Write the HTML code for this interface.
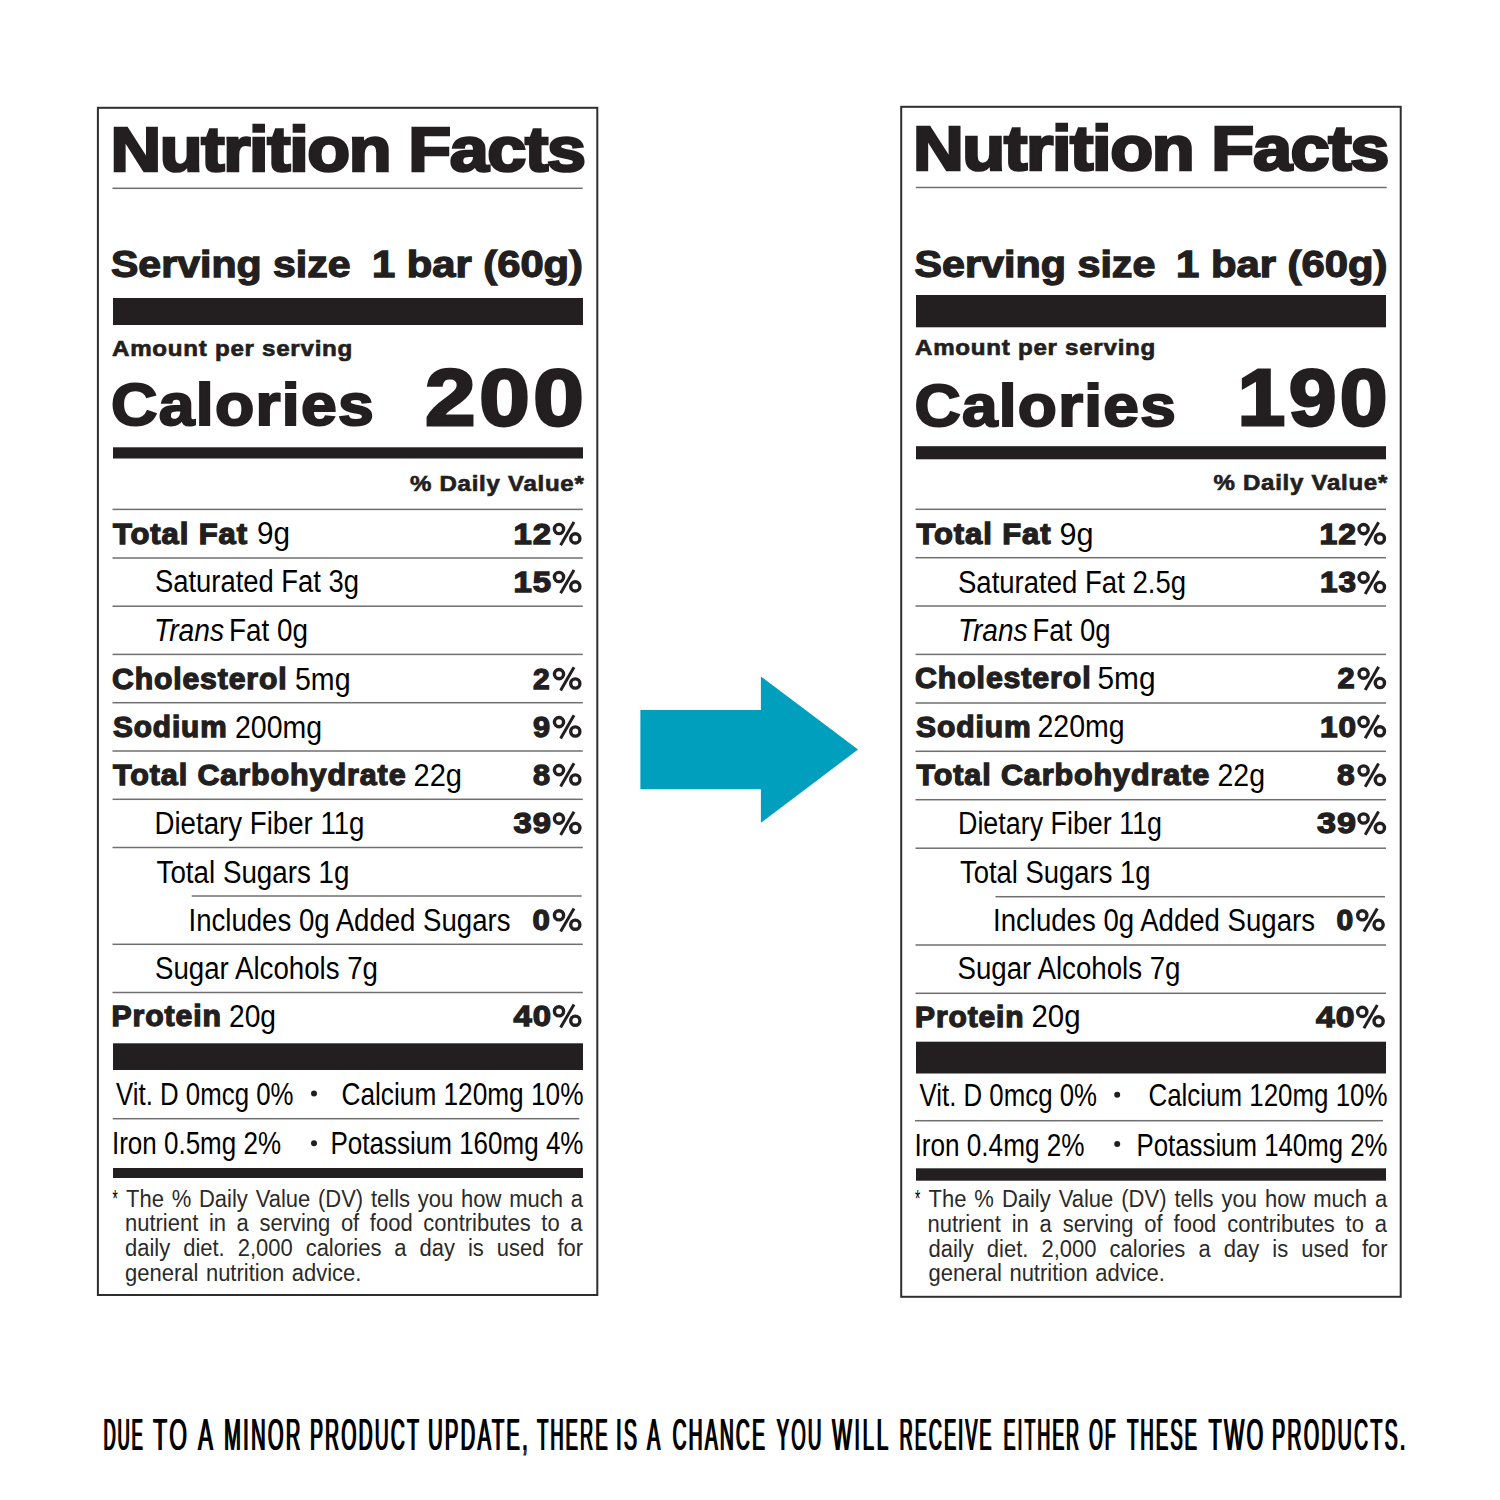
<!DOCTYPE html><html><head><meta charset="utf-8"><title>Nutrition Facts</title><style>html,body{margin:0;padding:0;background:#fff;width:1500px;height:1500px;overflow:hidden}svg{display:block}text{font-family:"Liberation Sans",sans-serif;fill:#231f20}</style></head><body>
<svg width="1500" height="1500" viewBox="0 0 1500 1500">
<rect x="0" y="0" width="1500" height="1500" fill="#fff"/>
<rect class="g" x="97.90" y="107.80" width="499.40" height="1187.20" fill="none" stroke="#2e2e2e" stroke-width="2"/>
<rect class="g" x="901.20" y="106.80" width="499.50" height="1190.00" fill="none" stroke="#2e2e2e" stroke-width="2"/>
<rect class="g" x="113.00" y="298.00" width="470.00" height="27.00" fill="#231f20"/>
<rect class="g" x="113.00" y="447.30" width="470.00" height="11.20" fill="#231f20"/>
<rect class="g" x="113.00" y="1043.30" width="470.00" height="26.70" fill="#231f20"/>
<rect class="g" x="113.00" y="1168.00" width="470.00" height="10.00" fill="#231f20"/>
<rect class="g" x="916.00" y="295.00" width="470.00" height="32.30" fill="#231f20"/>
<rect class="g" x="916.00" y="446.20" width="470.00" height="13.10" fill="#231f20"/>
<rect class="g" x="916.00" y="1041.70" width="470.00" height="31.80" fill="#231f20"/>
<rect class="g" x="916.00" y="1168.30" width="470.00" height="12.40" fill="#231f20"/>
<rect class="g" x="112.50" y="187.55" width="470.20" height="1.5" fill="#707070"/>
<rect class="g" x="112.50" y="508.65" width="470.30" height="1.5" fill="#707070"/>
<rect class="g" x="112.50" y="557.25" width="470.30" height="1.5" fill="#707070"/>
<rect class="g" x="112.50" y="605.45" width="470.30" height="1.5" fill="#707070"/>
<rect class="g" x="112.50" y="653.65" width="470.30" height="1.5" fill="#707070"/>
<rect class="g" x="112.50" y="701.95" width="470.30" height="1.5" fill="#707070"/>
<rect class="g" x="112.50" y="750.25" width="470.30" height="1.5" fill="#707070"/>
<rect class="g" x="112.50" y="798.55" width="470.30" height="1.5" fill="#707070"/>
<rect class="g" x="112.50" y="846.75" width="470.30" height="1.5" fill="#707070"/>
<rect class="g" x="191.70" y="895.25" width="390.00" height="1.5" fill="#707070"/>
<rect class="g" x="112.50" y="943.55" width="470.30" height="1.5" fill="#707070"/>
<rect class="g" x="112.50" y="991.75" width="470.30" height="1.5" fill="#707070"/>
<rect class="g" x="112.70" y="1117.95" width="466.60" height="1.5" fill="#707070"/>
<rect class="g" x="915.80" y="186.75" width="470.90" height="1.5" fill="#707070"/>
<rect class="g" x="915.50" y="508.55" width="470.50" height="1.5" fill="#707070"/>
<rect class="g" x="915.50" y="556.95" width="470.50" height="1.5" fill="#707070"/>
<rect class="g" x="915.50" y="605.25" width="470.50" height="1.5" fill="#707070"/>
<rect class="g" x="915.50" y="653.65" width="470.50" height="1.5" fill="#707070"/>
<rect class="g" x="915.50" y="702.25" width="470.50" height="1.5" fill="#707070"/>
<rect class="g" x="915.50" y="750.55" width="470.50" height="1.5" fill="#707070"/>
<rect class="g" x="915.50" y="798.95" width="470.50" height="1.5" fill="#707070"/>
<rect class="g" x="915.50" y="847.45" width="470.50" height="1.5" fill="#707070"/>
<rect class="g" x="995.50" y="895.95" width="389.50" height="1.5" fill="#707070"/>
<rect class="g" x="915.50" y="944.25" width="470.50" height="1.5" fill="#707070"/>
<rect class="g" x="915.50" y="992.55" width="470.50" height="1.5" fill="#707070"/>
<rect class="g" x="915.00" y="1119.95" width="468.00" height="1.5" fill="#707070"/>
<circle class="g" cx="314.00" cy="1093.60" r="3.0" fill="#231f20"/>
<circle class="g" cx="314.00" cy="1143.20" r="3.0" fill="#231f20"/>
<circle class="g" cx="1117.20" cy="1094.70" r="3.0" fill="#231f20"/>
<circle class="g" cx="1117.20" cy="1144.00" r="3.0" fill="#231f20"/>
<g class="g" transform="translate(552.70,544.40)" fill="none" stroke="#231f20"><circle cx="6.3" cy="-15.4" r="4.6" stroke-width="3.4"/><circle cx="22.6" cy="-6.0" r="4.6" stroke-width="3.4"/><line x1="21.3" y1="-22.3" x2="7.9" y2="0.9" stroke-width="3"/></g>
<g class="g" transform="translate(552.70,592.40)" fill="none" stroke="#231f20"><circle cx="6.3" cy="-15.4" r="4.6" stroke-width="3.4"/><circle cx="22.6" cy="-6.0" r="4.6" stroke-width="3.4"/><line x1="21.3" y1="-22.3" x2="7.9" y2="0.9" stroke-width="3"/></g>
<g class="g" transform="translate(552.70,689.50)" fill="none" stroke="#231f20"><circle cx="6.3" cy="-15.4" r="4.6" stroke-width="3.4"/><circle cx="22.6" cy="-6.0" r="4.6" stroke-width="3.4"/><line x1="21.3" y1="-22.3" x2="7.9" y2="0.9" stroke-width="3"/></g>
<g class="g" transform="translate(552.70,737.50)" fill="none" stroke="#231f20"><circle cx="6.3" cy="-15.4" r="4.6" stroke-width="3.4"/><circle cx="22.6" cy="-6.0" r="4.6" stroke-width="3.4"/><line x1="21.3" y1="-22.3" x2="7.9" y2="0.9" stroke-width="3"/></g>
<g class="g" transform="translate(552.70,785.50)" fill="none" stroke="#231f20"><circle cx="6.3" cy="-15.4" r="4.6" stroke-width="3.4"/><circle cx="22.6" cy="-6.0" r="4.6" stroke-width="3.4"/><line x1="21.3" y1="-22.3" x2="7.9" y2="0.9" stroke-width="3"/></g>
<g class="g" transform="translate(552.70,834.00)" fill="none" stroke="#231f20"><circle cx="6.3" cy="-15.4" r="4.6" stroke-width="3.4"/><circle cx="22.6" cy="-6.0" r="4.6" stroke-width="3.4"/><line x1="21.3" y1="-22.3" x2="7.9" y2="0.9" stroke-width="3"/></g>
<g class="g" transform="translate(552.70,930.70)" fill="none" stroke="#231f20"><circle cx="6.3" cy="-15.4" r="4.6" stroke-width="3.4"/><circle cx="22.6" cy="-6.0" r="4.6" stroke-width="3.4"/><line x1="21.3" y1="-22.3" x2="7.9" y2="0.9" stroke-width="3"/></g>
<g class="g" transform="translate(552.70,1026.70)" fill="none" stroke="#231f20"><circle cx="6.3" cy="-15.4" r="4.6" stroke-width="3.4"/><circle cx="22.6" cy="-6.0" r="4.6" stroke-width="3.4"/><line x1="21.3" y1="-22.3" x2="7.9" y2="0.9" stroke-width="3"/></g>
<g class="g" transform="translate(1357.30,544.50)" fill="none" stroke="#231f20"><circle cx="6.3" cy="-15.4" r="4.6" stroke-width="3.4"/><circle cx="22.6" cy="-6.0" r="4.6" stroke-width="3.4"/><line x1="21.3" y1="-22.3" x2="7.9" y2="0.9" stroke-width="3"/></g>
<g class="g" transform="translate(1357.30,593.00)" fill="none" stroke="#231f20"><circle cx="6.3" cy="-15.4" r="4.6" stroke-width="3.4"/><circle cx="22.6" cy="-6.0" r="4.6" stroke-width="3.4"/><line x1="21.3" y1="-22.3" x2="7.9" y2="0.9" stroke-width="3"/></g>
<g class="g" transform="translate(1357.30,689.00)" fill="none" stroke="#231f20"><circle cx="6.3" cy="-15.4" r="4.6" stroke-width="3.4"/><circle cx="22.6" cy="-6.0" r="4.6" stroke-width="3.4"/><line x1="21.3" y1="-22.3" x2="7.9" y2="0.9" stroke-width="3"/></g>
<g class="g" transform="translate(1357.30,737.30)" fill="none" stroke="#231f20"><circle cx="6.3" cy="-15.4" r="4.6" stroke-width="3.4"/><circle cx="22.6" cy="-6.0" r="4.6" stroke-width="3.4"/><line x1="21.3" y1="-22.3" x2="7.9" y2="0.9" stroke-width="3"/></g>
<g class="g" transform="translate(1357.30,785.90)" fill="none" stroke="#231f20"><circle cx="6.3" cy="-15.4" r="4.6" stroke-width="3.4"/><circle cx="22.6" cy="-6.0" r="4.6" stroke-width="3.4"/><line x1="21.3" y1="-22.3" x2="7.9" y2="0.9" stroke-width="3"/></g>
<g class="g" transform="translate(1357.30,833.90)" fill="none" stroke="#231f20"><circle cx="6.3" cy="-15.4" r="4.6" stroke-width="3.4"/><circle cx="22.6" cy="-6.0" r="4.6" stroke-width="3.4"/><line x1="21.3" y1="-22.3" x2="7.9" y2="0.9" stroke-width="3"/></g>
<g class="g" transform="translate(1356.00,930.70)" fill="none" stroke="#231f20"><circle cx="6.3" cy="-15.4" r="4.6" stroke-width="3.4"/><circle cx="22.6" cy="-6.0" r="4.6" stroke-width="3.4"/><line x1="21.3" y1="-22.3" x2="7.9" y2="0.9" stroke-width="3"/></g>
<g class="g" transform="translate(1356.00,1027.30)" fill="none" stroke="#231f20"><circle cx="6.3" cy="-15.4" r="4.6" stroke-width="3.4"/><circle cx="22.6" cy="-6.0" r="4.6" stroke-width="3.4"/><line x1="21.3" y1="-22.3" x2="7.9" y2="0.9" stroke-width="3"/></g>
<polygon class="g" points="640.4,710.0 760.9,710.0 760.9,676.4 858.0,749.5 760.9,822.8 760.9,789.2 640.4,789.2" fill="#009fbe"/>
<text id="t0" x="110.50" y="170.99" font-size="62.30" textLength="474.00" lengthAdjust="spacingAndGlyphs" style="font-weight:700;stroke:#231f20;stroke-width:2.62;letter-spacing:-1.25px;">Nutrition Facts</text>
<text id="t1" x="111.00" y="276.97" font-size="36.20" textLength="239.50" lengthAdjust="spacingAndGlyphs" style="font-weight:700;stroke:#231f20;stroke-width:1.27;letter-spacing:0.00px;">Serving size</text>
<text id="t2" x="372.00" y="276.97" font-size="36.20" textLength="211.00" lengthAdjust="spacingAndGlyphs" style="font-weight:700;stroke:#231f20;stroke-width:1.27;letter-spacing:0.00px;">1 bar (60g)</text>
<text id="t3" x="112.00" y="355.67" font-size="21.90" textLength="241.00" lengthAdjust="spacingAndGlyphs" style="font-weight:700;stroke:#231f20;stroke-width:0.66;letter-spacing:0.66px;">Amount per serving</text>
<text id="t4" x="111.00" y="425.45" font-size="60.00" textLength="264.00" lengthAdjust="spacingAndGlyphs" style="font-weight:700;stroke:#231f20;stroke-width:2.10;letter-spacing:1.20px;">Calories</text>
<text id="t5" x="425.00" y="424.99" font-size="80.50" textLength="162.50" lengthAdjust="spacingAndGlyphs" style="font-weight:700;stroke:#231f20;stroke-width:2.82;letter-spacing:3.22px;">200</text>
<text id="t6" x="410.00" y="491.08" font-size="21.60" textLength="174.50" lengthAdjust="spacingAndGlyphs" style="font-weight:700;stroke:#231f20;stroke-width:0.65;letter-spacing:0.65px;">% Daily Value*</text>
<text id="t7" x="113.00" y="543.75" font-size="29.00" textLength="135.00" lengthAdjust="spacingAndGlyphs" style="font-weight:700;stroke:#231f20;stroke-width:1.30;letter-spacing:0.87px;">Total Fat</text>
<text id="t8" x="257.00" y="544.40" font-size="31.00" textLength="33.00" lengthAdjust="spacingAndGlyphs" style="font-weight:400;fill:#000;">9g</text>
<text id="t9" x="513.50" y="543.75" font-size="29.00" textLength="38.50" lengthAdjust="spacingAndGlyphs" style="font-weight:700;stroke:#231f20;stroke-width:1.30;letter-spacing:0.87px;">12</text>
<text id="t10" x="155.00" y="592.40" font-size="31.00" textLength="204.00" lengthAdjust="spacingAndGlyphs" style="font-weight:400;fill:#000;">Saturated Fat 3g</text>
<text id="t11" x="513.50" y="591.75" font-size="29.00" textLength="38.50" lengthAdjust="spacingAndGlyphs" style="font-weight:700;stroke:#231f20;stroke-width:1.30;letter-spacing:0.87px;">15</text>
<text id="t12" x="154.00" y="641.00" font-size="31.00" textLength="70.00" lengthAdjust="spacingAndGlyphs" style="font-weight:400;font-style:italic;fill:#000;">Trans</text>
<text id="t13" x="229.00" y="641.00" font-size="31.00" textLength="79.00" lengthAdjust="spacingAndGlyphs" style="font-weight:400;fill:#000;">Fat 0g</text>
<text id="t14" x="112.00" y="688.85" font-size="29.00" textLength="175.50" lengthAdjust="spacingAndGlyphs" style="font-weight:700;stroke:#231f20;stroke-width:1.30;letter-spacing:0.87px;">Cholesterol</text>
<text id="t15" x="295.00" y="689.50" font-size="31.00" textLength="55.50" lengthAdjust="spacingAndGlyphs" style="font-weight:400;fill:#000;">5mg</text>
<text id="t16" x="533.00" y="688.85" font-size="29.00" textLength="17.60" lengthAdjust="spacingAndGlyphs" style="font-weight:700;stroke:#231f20;stroke-width:1.30;letter-spacing:0.87px;">2</text>
<text id="t17" x="113.00" y="736.85" font-size="29.00" textLength="114.50" lengthAdjust="spacingAndGlyphs" style="font-weight:700;stroke:#231f20;stroke-width:1.30;letter-spacing:0.87px;">Sodium</text>
<text id="t18" x="235.00" y="737.50" font-size="31.00" textLength="87.00" lengthAdjust="spacingAndGlyphs" style="font-weight:400;fill:#000;">200mg</text>
<text id="t19" x="533.00" y="736.85" font-size="29.00" textLength="18.00" lengthAdjust="spacingAndGlyphs" style="font-weight:700;stroke:#231f20;stroke-width:1.30;letter-spacing:0.87px;">9</text>
<text id="t20" x="113.00" y="784.85" font-size="29.00" textLength="293.50" lengthAdjust="spacingAndGlyphs" style="font-weight:700;stroke:#231f20;stroke-width:1.30;letter-spacing:0.87px;">Total Carbohydrate</text>
<text id="t21" x="413.50" y="785.50" font-size="31.00" textLength="48.50" lengthAdjust="spacingAndGlyphs" style="font-weight:400;fill:#000;">22g</text>
<text id="t22" x="533.00" y="784.85" font-size="29.00" textLength="18.00" lengthAdjust="spacingAndGlyphs" style="font-weight:700;stroke:#231f20;stroke-width:1.30;letter-spacing:0.87px;">8</text>
<text id="t23" x="154.50" y="834.00" font-size="31.00" textLength="210.00" lengthAdjust="spacingAndGlyphs" style="font-weight:400;fill:#000;">Dietary Fiber 11g</text>
<text id="t24" x="513.50" y="833.35" font-size="29.00" textLength="38.50" lengthAdjust="spacingAndGlyphs" style="font-weight:700;stroke:#231f20;stroke-width:1.30;letter-spacing:0.87px;">39</text>
<text id="t25" x="156.50" y="882.70" font-size="31.00" textLength="193.00" lengthAdjust="spacingAndGlyphs" style="font-weight:400;fill:#000;">Total Sugars 1g</text>
<text id="t26" x="188.50" y="930.70" font-size="31.00" textLength="322.00" lengthAdjust="spacingAndGlyphs" style="font-weight:400;fill:#000;">Includes 0g Added Sugars</text>
<text id="t27" x="532.50" y="930.05" font-size="29.00" textLength="18.30" lengthAdjust="spacingAndGlyphs" style="font-weight:700;stroke:#231f20;stroke-width:1.30;letter-spacing:0.87px;">0</text>
<text id="t28" x="155.00" y="979.30" font-size="31.00" textLength="223.00" lengthAdjust="spacingAndGlyphs" style="font-weight:400;fill:#000;">Sugar Alcohols 7g</text>
<text id="t29" x="111.50" y="1026.05" font-size="29.00" textLength="110.50" lengthAdjust="spacingAndGlyphs" style="font-weight:700;stroke:#231f20;stroke-width:1.30;letter-spacing:0.87px;">Protein</text>
<text id="t30" x="229.00" y="1026.70" font-size="31.00" textLength="47.00" lengthAdjust="spacingAndGlyphs" style="font-weight:400;fill:#000;">20g</text>
<text id="t31" x="513.50" y="1026.05" font-size="29.00" textLength="38.50" lengthAdjust="spacingAndGlyphs" style="font-weight:700;stroke:#231f20;stroke-width:1.30;letter-spacing:0.87px;">40</text>
<text id="t32" x="116.00" y="1105.00" font-size="30.50" textLength="177.50" lengthAdjust="spacingAndGlyphs" style="font-weight:400;fill:#000;">Vit. D 0mcg 0%</text>
<text id="t33" x="341.50" y="1105.00" font-size="30.50" textLength="242.00" lengthAdjust="spacingAndGlyphs" style="font-weight:400;fill:#000;">Calcium 120mg 10%</text>
<text id="t34" x="112.00" y="1154.20" font-size="30.50" textLength="169.00" lengthAdjust="spacingAndGlyphs" style="font-weight:400;fill:#000;">Iron 0.5mg 2%</text>
<text id="t35" x="330.50" y="1154.20" font-size="30.50" textLength="253.00" lengthAdjust="spacingAndGlyphs" style="font-weight:400;fill:#000;">Potassium 160mg 4%</text>
<text id="t36" x="112.50" y="1206.70" font-size="23.40" textLength="5.30" lengthAdjust="spacingAndGlyphs" style="font-weight:400;fill:#000;">*</text>
<text id="t37" transform="translate(126.00,1206.70) scale(0.9400,1)" x="0" y="0" font-size="23.40" style="font-weight:400;fill:#2a2a2a;word-spacing:1.80px;">The % Daily Value (DV) tells you how much a</text>
<text id="t38" transform="translate(125.00,1231.00) scale(0.9400,1)" x="0" y="0" font-size="23.40" style="font-weight:400;fill:#2a2a2a;word-spacing:4.79px;">nutrient in a serving of food contributes to a</text>
<text id="t39" transform="translate(125.00,1256.00) scale(0.9400,1)" x="0" y="0" font-size="23.40" style="font-weight:400;fill:#2a2a2a;word-spacing:7.31px;">daily diet. 2,000 calories a day is used for</text>
<text id="t40" transform="translate(125.00,1281.00) scale(0.9400,1)" x="0" y="0" font-size="23.40" style="font-weight:400;fill:#2a2a2a;word-spacing:1.60px;">general nutrition advice.</text>
<text id="t41" x="913.00" y="170.19" font-size="62.30" textLength="475.00" lengthAdjust="spacingAndGlyphs" style="font-weight:700;stroke:#231f20;stroke-width:2.62;letter-spacing:-1.25px;">Nutrition Facts</text>
<text id="t42" x="914.50" y="276.57" font-size="36.20" textLength="241.00" lengthAdjust="spacingAndGlyphs" style="font-weight:700;stroke:#231f20;stroke-width:1.27;letter-spacing:0.00px;">Serving size</text>
<text id="t43" x="1176.00" y="276.57" font-size="36.20" textLength="211.50" lengthAdjust="spacingAndGlyphs" style="font-weight:700;stroke:#231f20;stroke-width:1.27;letter-spacing:0.00px;">1 bar (60g)</text>
<text id="t44" x="915.00" y="354.97" font-size="21.90" textLength="241.00" lengthAdjust="spacingAndGlyphs" style="font-weight:700;stroke:#231f20;stroke-width:0.66;letter-spacing:0.66px;">Amount per serving</text>
<text id="t45" x="914.50" y="425.65" font-size="60.00" textLength="262.50" lengthAdjust="spacingAndGlyphs" style="font-weight:700;stroke:#231f20;stroke-width:2.10;letter-spacing:1.20px;">Calories</text>
<text id="t46" x="1237.50" y="424.89" font-size="80.50" textLength="153.50" lengthAdjust="spacingAndGlyphs" style="font-weight:700;stroke:#231f20;stroke-width:2.82;letter-spacing:3.22px;">190</text>
<text id="t47" x="1213.50" y="490.38" font-size="21.60" textLength="174.50" lengthAdjust="spacingAndGlyphs" style="font-weight:700;stroke:#231f20;stroke-width:0.65;letter-spacing:0.65px;">% Daily Value*</text>
<text id="t48" x="916.50" y="543.85" font-size="29.00" textLength="135.00" lengthAdjust="spacingAndGlyphs" style="font-weight:700;stroke:#231f20;stroke-width:1.30;letter-spacing:0.87px;">Total Fat</text>
<text id="t49" x="1059.50" y="544.50" font-size="31.00" textLength="34.00" lengthAdjust="spacingAndGlyphs" style="font-weight:400;fill:#000;">9g</text>
<text id="t50" x="1319.50" y="543.85" font-size="29.00" textLength="37.50" lengthAdjust="spacingAndGlyphs" style="font-weight:700;stroke:#231f20;stroke-width:1.30;letter-spacing:0.87px;">12</text>
<text id="t51" x="958.00" y="593.00" font-size="31.00" textLength="228.00" lengthAdjust="spacingAndGlyphs" style="font-weight:400;fill:#000;">Saturated Fat 2.5g</text>
<text id="t52" x="1320.00" y="592.35" font-size="29.00" textLength="37.00" lengthAdjust="spacingAndGlyphs" style="font-weight:700;stroke:#231f20;stroke-width:1.30;letter-spacing:0.87px;">13</text>
<text id="t53" x="958.00" y="641.00" font-size="31.00" textLength="69.50" lengthAdjust="spacingAndGlyphs" style="font-weight:400;font-style:italic;fill:#000;">Trans</text>
<text id="t54" x="1032.50" y="641.00" font-size="31.00" textLength="78.00" lengthAdjust="spacingAndGlyphs" style="font-weight:400;fill:#000;">Fat 0g</text>
<text id="t55" x="915.00" y="688.35" font-size="29.00" textLength="176.50" lengthAdjust="spacingAndGlyphs" style="font-weight:700;stroke:#231f20;stroke-width:1.30;letter-spacing:0.87px;">Cholesterol</text>
<text id="t56" x="1097.50" y="689.00" font-size="31.00" textLength="58.00" lengthAdjust="spacingAndGlyphs" style="font-weight:400;fill:#000;">5mg</text>
<text id="t57" x="1337.50" y="688.35" font-size="29.00" textLength="18.10" lengthAdjust="spacingAndGlyphs" style="font-weight:700;stroke:#231f20;stroke-width:1.30;letter-spacing:0.87px;">2</text>
<text id="t58" x="916.00" y="736.65" font-size="29.00" textLength="115.50" lengthAdjust="spacingAndGlyphs" style="font-weight:700;stroke:#231f20;stroke-width:1.30;letter-spacing:0.87px;">Sodium</text>
<text id="t59" x="1037.50" y="737.30" font-size="31.00" textLength="87.00" lengthAdjust="spacingAndGlyphs" style="font-weight:400;fill:#000;">220mg</text>
<text id="t60" x="1320.00" y="736.65" font-size="29.00" textLength="37.00" lengthAdjust="spacingAndGlyphs" style="font-weight:700;stroke:#231f20;stroke-width:1.30;letter-spacing:0.87px;">10</text>
<text id="t61" x="916.50" y="785.25" font-size="29.00" textLength="293.50" lengthAdjust="spacingAndGlyphs" style="font-weight:700;stroke:#231f20;stroke-width:1.30;letter-spacing:0.87px;">Total Carbohydrate</text>
<text id="t62" x="1217.50" y="785.90" font-size="31.00" textLength="47.50" lengthAdjust="spacingAndGlyphs" style="font-weight:400;fill:#000;">22g</text>
<text id="t63" x="1337.00" y="785.25" font-size="29.00" textLength="18.60" lengthAdjust="spacingAndGlyphs" style="font-weight:700;stroke:#231f20;stroke-width:1.30;letter-spacing:0.87px;">8</text>
<text id="t64" x="958.00" y="833.90" font-size="31.00" textLength="204.00" lengthAdjust="spacingAndGlyphs" style="font-weight:400;fill:#000;">Dietary Fiber 11g</text>
<text id="t65" x="1317.00" y="833.25" font-size="29.00" textLength="40.00" lengthAdjust="spacingAndGlyphs" style="font-weight:700;stroke:#231f20;stroke-width:1.30;letter-spacing:0.87px;">39</text>
<text id="t66" x="960.00" y="882.70" font-size="31.00" textLength="190.50" lengthAdjust="spacingAndGlyphs" style="font-weight:400;fill:#000;">Total Sugars 1g</text>
<text id="t67" x="993.00" y="930.70" font-size="31.00" textLength="322.00" lengthAdjust="spacingAndGlyphs" style="font-weight:400;fill:#000;">Includes 0g Added Sugars</text>
<text id="t68" x="1336.50" y="930.05" font-size="29.00" textLength="17.60" lengthAdjust="spacingAndGlyphs" style="font-weight:700;stroke:#231f20;stroke-width:1.30;letter-spacing:0.87px;">0</text>
<text id="t69" x="957.50" y="979.30" font-size="31.00" textLength="223.00" lengthAdjust="spacingAndGlyphs" style="font-weight:400;fill:#000;">Sugar Alcohols 7g</text>
<text id="t70" x="915.00" y="1026.65" font-size="29.00" textLength="109.50" lengthAdjust="spacingAndGlyphs" style="font-weight:700;stroke:#231f20;stroke-width:1.30;letter-spacing:0.87px;">Protein</text>
<text id="t71" x="1031.50" y="1027.30" font-size="31.00" textLength="49.00" lengthAdjust="spacingAndGlyphs" style="font-weight:400;fill:#000;">20g</text>
<text id="t72" x="1316.00" y="1026.65" font-size="29.00" textLength="39.50" lengthAdjust="spacingAndGlyphs" style="font-weight:700;stroke:#231f20;stroke-width:1.30;letter-spacing:0.87px;">40</text>
<text id="t73" x="919.50" y="1106.00" font-size="30.50" textLength="177.50" lengthAdjust="spacingAndGlyphs" style="font-weight:400;fill:#000;">Vit. D 0mcg 0%</text>
<text id="t74" x="1148.50" y="1106.00" font-size="30.50" textLength="239.00" lengthAdjust="spacingAndGlyphs" style="font-weight:400;fill:#000;">Calcium 120mg 10%</text>
<text id="t75" x="914.50" y="1155.50" font-size="30.50" textLength="170.00" lengthAdjust="spacingAndGlyphs" style="font-weight:400;fill:#000;">Iron 0.4mg 2%</text>
<text id="t76" x="1136.50" y="1155.50" font-size="30.50" textLength="251.00" lengthAdjust="spacingAndGlyphs" style="font-weight:400;fill:#000;">Potassium 140mg 2%</text>
<text id="t77" x="915.00" y="1207.30" font-size="23.40" textLength="5.30" lengthAdjust="spacingAndGlyphs" style="font-weight:400;fill:#000;">*</text>
<text id="t78" transform="translate(928.50,1207.30) scale(0.9400,1)" x="0" y="0" font-size="23.40" style="font-weight:400;fill:#2a2a2a;word-spacing:2.01px;">The % Daily Value (DV) tells you how much a</text>
<text id="t79" transform="translate(927.50,1232.30) scale(0.9400,1)" x="0" y="0" font-size="23.40" style="font-weight:400;fill:#2a2a2a;word-spacing:5.05px;">nutrient in a serving of food contributes to a</text>
<text id="t80" transform="translate(928.50,1256.50) scale(0.9400,1)" x="0" y="0" font-size="23.40" style="font-weight:400;fill:#2a2a2a;word-spacing:7.45px;">daily diet. 2,000 calories a day is used for</text>
<text id="t81" transform="translate(928.50,1280.70) scale(0.9400,1)" x="0" y="0" font-size="23.40" style="font-weight:400;fill:#2a2a2a;word-spacing:1.60px;">general nutrition advice.</text>
<g id="t82"><g transform="translate(103.00,1449.50) scale(0.440,1)"><text x="0" y="0" font-size="43.60" textLength="93.18" lengthAdjust="spacingAndGlyphs" style="font-weight:400;fill:#000;letter-spacing:5.00px;">DUE</text></g><g transform="translate(104.20,1449.50) scale(0.440,1)"><text x="0" y="0" font-size="43.60" textLength="93.18" lengthAdjust="spacingAndGlyphs" style="font-weight:400;fill:#000;letter-spacing:5.00px;">DUE</text></g></g>
<g id="t83"><g transform="translate(152.50,1449.50) scale(0.440,1)"><text x="0" y="0" font-size="43.60" textLength="82.95" lengthAdjust="spacingAndGlyphs" style="font-weight:400;fill:#000;letter-spacing:5.00px;">TO</text></g><g transform="translate(153.70,1449.50) scale(0.440,1)"><text x="0" y="0" font-size="43.60" textLength="82.95" lengthAdjust="spacingAndGlyphs" style="font-weight:400;fill:#000;letter-spacing:5.00px;">TO</text></g></g>
<g id="t84"><g transform="translate(197.50,1449.50) scale(0.440,1)"><text x="0" y="0" font-size="43.60" textLength="39.32" lengthAdjust="spacingAndGlyphs" style="font-weight:400;fill:#000;letter-spacing:5.00px;">A</text></g><g transform="translate(198.70,1449.50) scale(0.440,1)"><text x="0" y="0" font-size="43.60" textLength="39.32" lengthAdjust="spacingAndGlyphs" style="font-weight:400;fill:#000;letter-spacing:5.00px;">A</text></g></g>
<g id="t85"><g transform="translate(223.50,1449.50) scale(0.440,1)"><text x="0" y="0" font-size="43.60" textLength="178.41" lengthAdjust="spacingAndGlyphs" style="font-weight:400;fill:#000;letter-spacing:5.00px;">MINOR</text></g><g transform="translate(224.70,1449.50) scale(0.440,1)"><text x="0" y="0" font-size="43.60" textLength="178.41" lengthAdjust="spacingAndGlyphs" style="font-weight:400;fill:#000;letter-spacing:5.00px;">MINOR</text></g></g>
<g id="t86"><g transform="translate(309.50,1449.50) scale(0.440,1)"><text x="0" y="0" font-size="43.60" textLength="252.27" lengthAdjust="spacingAndGlyphs" style="font-weight:400;fill:#000;letter-spacing:5.00px;">PRODUCT</text></g><g transform="translate(310.70,1449.50) scale(0.440,1)"><text x="0" y="0" font-size="43.60" textLength="252.27" lengthAdjust="spacingAndGlyphs" style="font-weight:400;fill:#000;letter-spacing:5.00px;">PRODUCT</text></g></g>
<g id="t87"><g transform="translate(427.50,1449.50) scale(0.440,1)"><text x="0" y="0" font-size="43.60" textLength="231.82" lengthAdjust="spacingAndGlyphs" style="font-weight:400;fill:#000;letter-spacing:5.00px;">UPDATE,</text></g><g transform="translate(428.70,1449.50) scale(0.440,1)"><text x="0" y="0" font-size="43.60" textLength="231.82" lengthAdjust="spacingAndGlyphs" style="font-weight:400;fill:#000;letter-spacing:5.00px;">UPDATE,</text></g></g>
<g id="t88"><g transform="translate(536.50,1449.50) scale(0.440,1)"><text x="0" y="0" font-size="43.60" textLength="164.77" lengthAdjust="spacingAndGlyphs" style="font-weight:400;fill:#000;letter-spacing:5.00px;">THERE</text></g><g transform="translate(537.70,1449.50) scale(0.440,1)"><text x="0" y="0" font-size="43.60" textLength="164.77" lengthAdjust="spacingAndGlyphs" style="font-weight:400;fill:#000;letter-spacing:5.00px;">THERE</text></g></g>
<g id="t89"><g transform="translate(615.50,1449.50) scale(0.440,1)"><text x="0" y="0" font-size="43.60" textLength="52.27" lengthAdjust="spacingAndGlyphs" style="font-weight:400;fill:#000;letter-spacing:5.00px;">IS</text></g><g transform="translate(616.70,1449.50) scale(0.440,1)"><text x="0" y="0" font-size="43.60" textLength="52.27" lengthAdjust="spacingAndGlyphs" style="font-weight:400;fill:#000;letter-spacing:5.00px;">IS</text></g></g>
<g id="t90"><g transform="translate(646.50,1449.50) scale(0.440,1)"><text x="0" y="0" font-size="43.60" textLength="35.00" lengthAdjust="spacingAndGlyphs" style="font-weight:400;fill:#000;letter-spacing:5.00px;">A</text></g><g transform="translate(647.70,1449.50) scale(0.440,1)"><text x="0" y="0" font-size="43.60" textLength="35.00" lengthAdjust="spacingAndGlyphs" style="font-weight:400;fill:#000;letter-spacing:5.00px;">A</text></g></g>
<g id="t91"><g transform="translate(672.00,1449.50) scale(0.440,1)"><text x="0" y="0" font-size="43.60" textLength="214.77" lengthAdjust="spacingAndGlyphs" style="font-weight:400;fill:#000;letter-spacing:5.00px;">CHANCE</text></g><g transform="translate(673.20,1449.50) scale(0.440,1)"><text x="0" y="0" font-size="43.60" textLength="214.77" lengthAdjust="spacingAndGlyphs" style="font-weight:400;fill:#000;letter-spacing:5.00px;">CHANCE</text></g></g>
<g id="t92"><g transform="translate(776.00,1449.50) scale(0.440,1)"><text x="0" y="0" font-size="43.60" textLength="106.82" lengthAdjust="spacingAndGlyphs" style="font-weight:400;fill:#000;letter-spacing:5.00px;">YOU</text></g><g transform="translate(777.20,1449.50) scale(0.440,1)"><text x="0" y="0" font-size="43.60" textLength="106.82" lengthAdjust="spacingAndGlyphs" style="font-weight:400;fill:#000;letter-spacing:5.00px;">YOU</text></g></g>
<g id="t93"><g transform="translate(831.50,1449.50) scale(0.440,1)"><text x="0" y="0" font-size="43.60" textLength="132.95" lengthAdjust="spacingAndGlyphs" style="font-weight:400;fill:#000;letter-spacing:5.00px;">WILL</text></g><g transform="translate(832.70,1449.50) scale(0.440,1)"><text x="0" y="0" font-size="43.60" textLength="132.95" lengthAdjust="spacingAndGlyphs" style="font-weight:400;fill:#000;letter-spacing:5.00px;">WILL</text></g></g>
<g id="t94"><g transform="translate(899.00,1449.50) scale(0.440,1)"><text x="0" y="0" font-size="43.60" textLength="213.64" lengthAdjust="spacingAndGlyphs" style="font-weight:400;fill:#000;letter-spacing:5.00px;">RECEIVE</text></g><g transform="translate(900.20,1449.50) scale(0.440,1)"><text x="0" y="0" font-size="43.60" textLength="213.64" lengthAdjust="spacingAndGlyphs" style="font-weight:400;fill:#000;letter-spacing:5.00px;">RECEIVE</text></g></g>
<g id="t95"><g transform="translate(1003.00,1449.50) scale(0.440,1)"><text x="0" y="0" font-size="43.60" textLength="176.14" lengthAdjust="spacingAndGlyphs" style="font-weight:400;fill:#000;letter-spacing:5.00px;">EITHER</text></g><g transform="translate(1004.20,1449.50) scale(0.440,1)"><text x="0" y="0" font-size="43.60" textLength="176.14" lengthAdjust="spacingAndGlyphs" style="font-weight:400;fill:#000;letter-spacing:5.00px;">EITHER</text></g></g>
<g id="t96"><g transform="translate(1088.50,1449.50) scale(0.440,1)"><text x="0" y="0" font-size="43.60" textLength="64.77" lengthAdjust="spacingAndGlyphs" style="font-weight:400;fill:#000;letter-spacing:5.00px;">OF</text></g><g transform="translate(1089.70,1449.50) scale(0.440,1)"><text x="0" y="0" font-size="43.60" textLength="64.77" lengthAdjust="spacingAndGlyphs" style="font-weight:400;fill:#000;letter-spacing:5.00px;">OF</text></g></g>
<g id="t97"><g transform="translate(1126.50,1449.50) scale(0.440,1)"><text x="0" y="0" font-size="43.60" textLength="163.64" lengthAdjust="spacingAndGlyphs" style="font-weight:400;fill:#000;letter-spacing:5.00px;">THESE</text></g><g transform="translate(1127.70,1449.50) scale(0.440,1)"><text x="0" y="0" font-size="43.60" textLength="163.64" lengthAdjust="spacingAndGlyphs" style="font-weight:400;fill:#000;letter-spacing:5.00px;">THESE</text></g></g>
<g id="t98"><g transform="translate(1208.00,1449.50) scale(0.440,1)"><text x="0" y="0" font-size="43.60" textLength="129.55" lengthAdjust="spacingAndGlyphs" style="font-weight:400;fill:#000;letter-spacing:5.00px;">TWO</text></g><g transform="translate(1209.20,1449.50) scale(0.440,1)"><text x="0" y="0" font-size="43.60" textLength="129.55" lengthAdjust="spacingAndGlyphs" style="font-weight:400;fill:#000;letter-spacing:5.00px;">TWO</text></g></g>
<g id="t99"><g transform="translate(1271.50,1449.50) scale(0.440,1)"><text x="0" y="0" font-size="43.60" textLength="307.95" lengthAdjust="spacingAndGlyphs" style="font-weight:400;fill:#000;letter-spacing:5.00px;">PRODUCTS.</text></g><g transform="translate(1272.70,1449.50) scale(0.440,1)"><text x="0" y="0" font-size="43.60" textLength="307.95" lengthAdjust="spacingAndGlyphs" style="font-weight:400;fill:#000;letter-spacing:5.00px;">PRODUCTS.</text></g></g>
</svg></body></html>
